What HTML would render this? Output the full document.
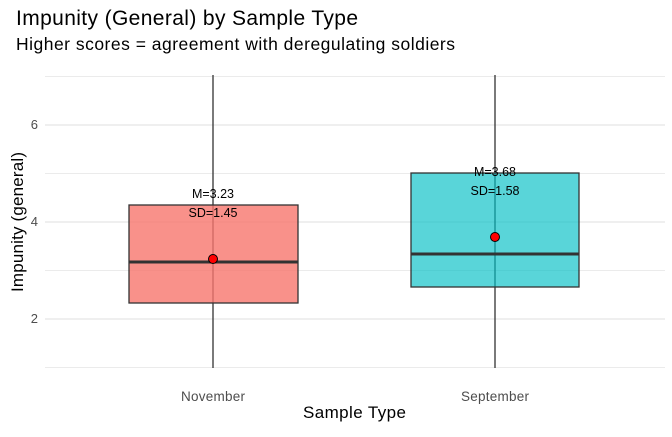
<!DOCTYPE html>
<html><head><style>body{margin:0;background:#fff}</style></head><body>
<svg width="672" height="432" xmlns="http://www.w3.org/2000/svg" font-family="Liberation Sans, sans-serif">
<rect width="672" height="432" fill="#fff"/>
<g stroke="#ebebeb" stroke-width="1">
<line x1="45" x2="665" y1="367.5" y2="367.5"/>
<line x1="45" x2="665" y1="270.5" y2="270.5"/>
<line x1="45" x2="665" y1="173.5" y2="173.5"/>
<line x1="45" x2="665" y1="76.5" y2="76.5"/>
</g>
<g stroke="#e5e5e5" stroke-width="1.3">
<line x1="45" x2="665" y1="319" y2="319"/>
<line x1="45" x2="665" y1="222" y2="222"/>
<line x1="45" x2="665" y1="125" y2="125"/>
</g>
<g stroke="#333" stroke-width="1.3">
<line x1="213" x2="213" y1="75" y2="368"/>
<line x1="495" x2="495" y1="75" y2="368"/>
</g>
<rect x="129" y="205" width="169" height="98" fill="#f8766d" fill-opacity="0.8" stroke="#333" stroke-width="1.3"/>
<line x1="129" x2="298" y1="262" y2="262" stroke="#333" stroke-width="3"/>
<rect x="411" y="173" width="168" height="114" fill="#00bfc4" fill-opacity="0.65" stroke="#333" stroke-width="1.3"/>
<line x1="411" x2="579" y1="254" y2="254" stroke="#333" stroke-width="3"/>
<circle cx="213" cy="259" r="4.5" fill="red" stroke="#000"/>
<circle cx="495" cy="237" r="4.5" fill="red" stroke="#000"/>
<g font-size="12.5" text-anchor="middle" fill="#000">
<text x="213" y="198">M=3.23</text>
<text x="213" y="217">SD=1.45</text>
<text x="495" y="176">M=3.68</text>
<text x="495" y="195">SD=1.58</text>
</g>
<g font-size="13" fill="#4d4d4d" text-anchor="end">
<text x="38" y="323">2</text>
<text x="38" y="226">4</text>
<text x="38" y="129">6</text>
</g>
<g font-size="13.5" fill="#4d4d4d">
<text x="181" y="401" textLength="64">November</text>
<text x="461" y="401" textLength="68">September</text>
</g>
<text x="303" y="418" font-size="17" textLength="103">Sample Type</text>
<text transform="translate(23,292) rotate(-90)" font-size="17" textLength="140">Impunity (general)</text>
<text x="16" y="25" font-size="21" textLength="342">Impunity (General) by Sample Type</text>
<text x="16" y="50" font-size="17.5" textLength="439">Higher scores = agreement with deregulating soldiers</text>
</svg>
</body></html>
